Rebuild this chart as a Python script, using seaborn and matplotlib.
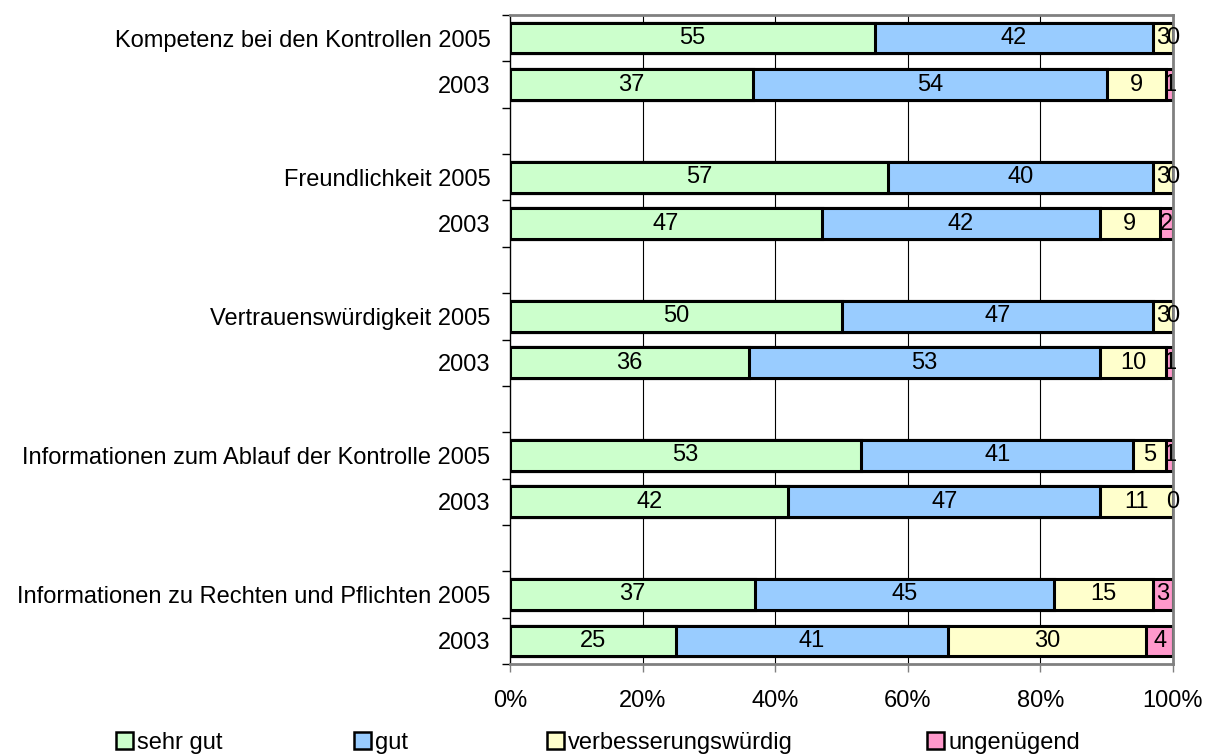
import numpy as np
import pandas as pd
import matplotlib
matplotlib.use("Agg")
import matplotlib.pyplot as plt
from matplotlib.patches import Patch
from matplotlib.ticker import FixedLocator, PercentFormatter
import seaborn as sns

# =========================
# DATA
# =========================
items = [
    "Kompetenz bei den Kontrollen",
    "Freundlichkeit",
    "Vertrauenswürdigkeit",
    "Informationen zum Ablauf der Kontrolle",
    "Informationen zu Rechten und Pflichten",
]
years = ["2005", "2003"]

sehr_gut = [55, 37, 57, 47, 50, 36, 53, 42, 37, 25]
gut = [42, 54, 40, 42, 47, 53, 41, 47, 45, 41]
verbesserungswuerdig = [3, 9, 3, 9, 3, 10, 5, 11, 15, 30]
ungenuegend = [0, 1, 0, 2, 0, 1, 1, 0, 3, 4]

series_names = ["sehr gut", "gut", "verbesserungswürdig", "ungenügend"]
colors = ["#CCFFCC", "#99CCFF", "#FFFFCC", "#FF99CC"]

sns.set_theme(style="white")
plt.rcParams["font.family"] = ["Liberation Sans", "DejaVu Sans"]
plt.rcParams["text.color"] = "black"
FS = 17

# category keys, with an empty slot between groups
order, ticklabels, keys = [], [], []
for i, item in enumerate(items):
    for y in years:
        k = f"{i}-{y}"
        order.append(k)
        keys.append(k)
        ticklabels.append(f"{item} {y}" if y == "2005" else y)
    if i < len(items) - 1:
        order.append(f"{i}-gap")
        ticklabels.append("")

raw = np.array([sehr_gut, gut, verbesserungswuerdig, ungenuegend], dtype=float)
share = raw / raw.sum(axis=0)
cum = np.cumsum(share, axis=0)

fig = plt.figure(figsize=(12.15, 7.56), dpi=100)
ax = fig.add_axes([510 / 1215, 1 - 664 / 756, 663 / 1215, 649 / 756])

# vertical grid under bars
for gx in [0.2, 0.4, 0.6, 0.8]:
    ax.axvline(gx, color="black", lw=0.8, zorder=0)

# stacked bars: draw cumulative totals from the longest to the shortest
for s in range(len(series_names) - 1, -1, -1):
    df = pd.DataFrame({"key": keys, "value": cum[s]})
    sns.barplot(data=df, x="value", y="key", order=order, color=colors[s],
                saturation=1, edgecolor="black", linewidth=2.2, width=0.66,
                errorbar=None, ax=ax, zorder=2)

# value labels (the 0 values sit on the bar end, as in the original)
for j, k in enumerate(keys):
    pos = order.index(k)
    start = 0.0
    for s in range(len(series_names)):
        ax.text(start + share[s, j] / 2, pos, f"{int(raw[s, j])}",
                ha="center", va="center", fontsize=FS, color="black", zorder=5)
        start += share[s, j]

ax.set_xlim(0, 1)
ax.set_ylim(len(order) - 0.5, -0.5)
ax.xaxis.set_major_locator(FixedLocator([0, 0.2, 0.4, 0.6, 0.8, 1.0]))
ax.xaxis.set_major_formatter(PercentFormatter(1.0, decimals=0))
ax.set_yticks(range(len(order)))
ax.set_yticklabels(ticklabels)
ax.set_yticks(np.arange(-0.5, len(order), 1.0), minor=True)
ax.tick_params(axis="y", which="major", length=0, pad=14, labelsize=FS,
               labelcolor="black")
ax.tick_params(axis="y", which="minor", length=6, width=1, color="black", left=True)
ax.tick_params(axis="x", which="major", length=6, width=1, color="#808080",
               bottom=True, pad=13, labelsize=FS, labelcolor="black")
ax.set_xlabel("")
ax.set_ylabel("")

for side in ["top", "right", "bottom"]:
    ax.spines[side].set_color("#808080")
    ax.spines[side].set_linewidth(2)
ax.spines["left"].set_color("black")
ax.spines["left"].set_linewidth(1)

# legend entries spread across the bottom
legend_x = [116, 354, 547, 927]
for name, col, lx in zip(series_names, colors, legend_x):
    h = Patch(facecolor=col, edgecolor="black", linewidth=1.8)
    fig.legend(handles=[h], labels=[name], loc="center left",
               bbox_to_anchor=(lx / 1215, 1 - 743 / 756), frameon=False,
               borderpad=0, borderaxespad=0, handlelength=0.7, handleheight=0.7,
               handletextpad=0.2, fontsize=FS, labelcolor="black")

fig.savefig("out.png", dpi=100)
